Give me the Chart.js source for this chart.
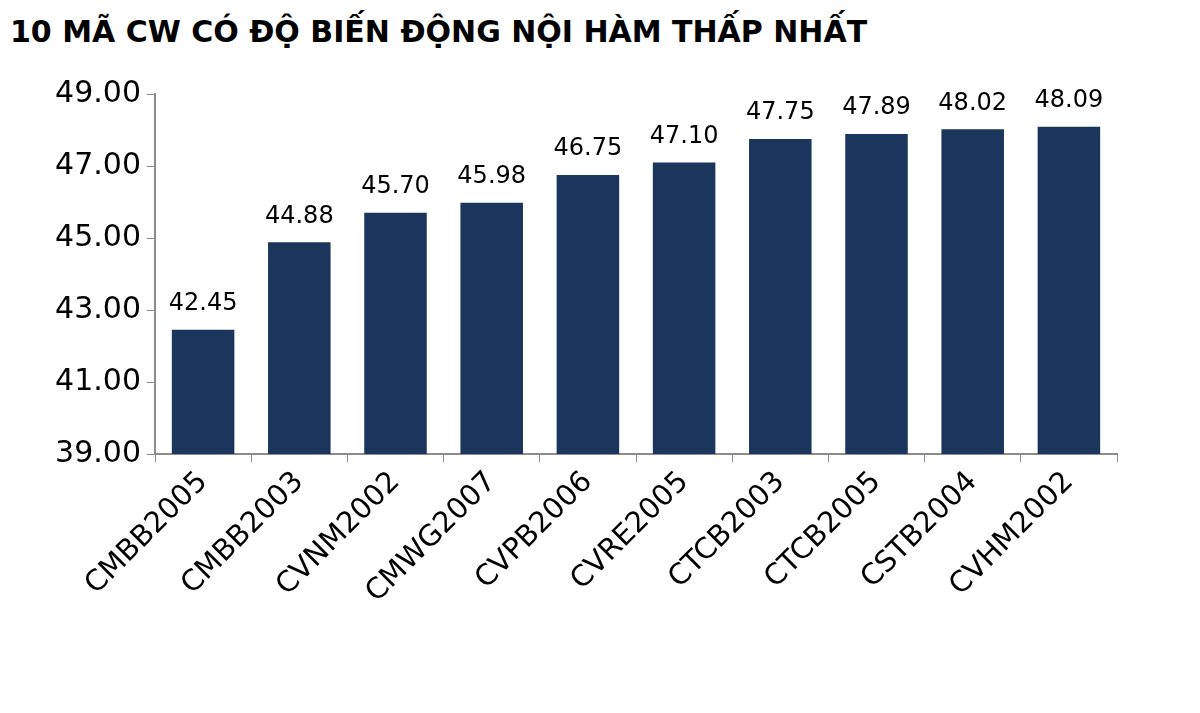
<!DOCTYPE html>
<html>
<head>
<meta charset="utf-8">
<script src="https://cdn.jsdelivr.net/npm/chart.js@4/dist/chart.umd.min.js"></script>
<style>
  body { margin: 0; background: #fff; }
  #title { position: absolute; left: 10px; top: 14px; font: bold 30px "DejaVu Sans", sans-serif; color: #000; white-space: nowrap; }
  #wrap { position: absolute; left: 0; top: 0; width: 1200px; height: 713px; }
</style>
</head>
<body>
<div id="title">10 MÃ CW CÓ ĐỘ BIẾN ĐỘNG NỘI HÀM THẤP NHẤT</div>
<div id="wrap"><canvas id="c"></canvas></div>
<script>
const codes = ['CMBB2005', 'CMBB2003', 'CVNM2002', 'CMWG2007', 'CVPB2006', 'CVRE2005', 'CTCB2003', 'CTCB2005', 'CSTB2004', 'CVHM2002'];
const volatility = [42.45, 44.88, 45.70, 45.98, 46.75, 47.10, 47.75, 47.89, 48.02, 48.09];
const yMin = 39;
const yMax = 49;

const barColor = '#1b365d';
const axisColor = '#8c8c8c';

// value labels above each bar
const valueLabels = {
  id: 'valueLabels',
  afterDatasetsDraw(chart) {
    const ctx = chart.ctx;
    const meta = chart.getDatasetMeta(0);
    ctx.save();
    ctx.font = '24px "DejaVu Sans", sans-serif';
    ctx.fillStyle = '#000';
    ctx.textAlign = 'center';
    ctx.textBaseline = 'bottom';
    meta.data.forEach((bar, i) => {
      ctx.fillText(volatility[i].toFixed(2), bar.x, bar.y - 14);
    });
    ctx.restore();
  }
};

new Chart(document.getElementById('c'), {
  type: 'bar',
  data: {
    labels: codes,
    datasets: [{
      data: volatility,
      backgroundColor: barColor,
      barPercentage: 0.65,
      categoryPercentage: 1.0
    }]
  },
  options: {
    responsive: true,
    maintainAspectRatio: false,
    animation: false,
    layout: { padding: { top: 94, right: 83, bottom: 100, left: 0 } },
    plugins: { legend: { display: false }, tooltip: { enabled: false } },
    scales: {
      x: {
        grid: { offset: true, drawOnChartArea: false, drawTicks: true, tickLength: 8, color: axisColor },
        border: { color: axisColor, width: 2 },
        ticks: { minRotation: 45, maxRotation: 45, color: '#000', font: { family: 'DejaVu Sans', size: 29 } }
      },
      y: {
        min: yMin,
        max: yMax,
        afterFit(scale) { scale.width = 155; },
        grid: { drawOnChartArea: false, drawTicks: true, tickLength: 8, color: axisColor },
        border: { color: axisColor, width: 2 },
        ticks: { stepSize: 1, color: '#000', padding: 6, font: { family: 'DejaVu Sans', size: 30 },
          callback: v => v.toFixed(2) }
      }
    }
  },
  plugins: [valueLabels]
});
</script>
</body>
</html>
